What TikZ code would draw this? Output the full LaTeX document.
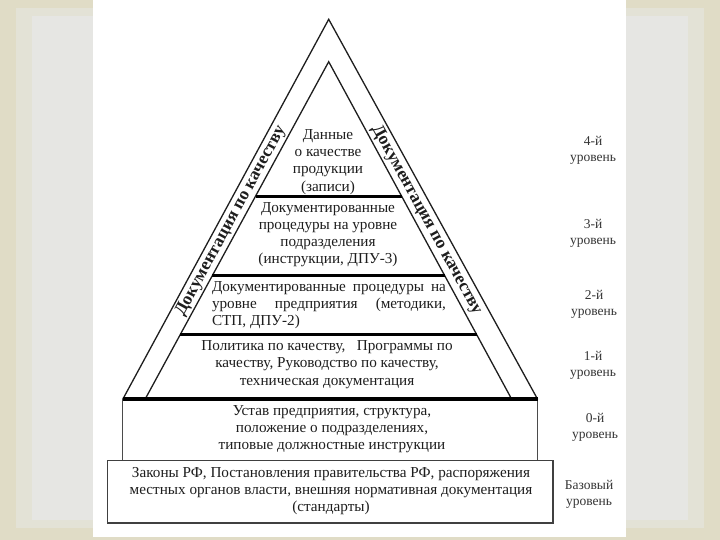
\documentclass[tikz,border=0pt]{standalone}
\usepackage{fontspec}
\setmainfont{Liberation Serif}
\usetikzlibrary{calc}
\definecolor{beige}{HTML}{E0DCC6}
\definecolor{beigelt}{HTML}{E3E2D6}
\definecolor{panelgray}{HTML}{E6E6E3}
\definecolor{ink}{HTML}{1E1E1E}
\tikzset{
  txt/.style={font=\fontsize{15.2}{17.2}\selectfont, align=center, inner sep=0pt, text=ink},
  lvl/.style={font=\fontsize{13.5}{16}\selectfont, align=center, inner sep=0pt, text=ink!90},
  band/.style={font=\bfseries\fontsize{17.5}{17.5}\selectfont, inner sep=0pt, text=ink},
  edge/.style={draw=ink, line width=1.3pt, line join=miter},
  sep/.style={draw=black, line width=3pt},
  basesep/.style={draw=black, line width=4pt},
  boxthin/.style={draw=ink!80, line width=0.9pt},
  boxbase/.style={draw=ink!85, line width=1.4pt}
}
\begin{document}
\begin{tikzpicture}[x=1pt,y=-1pt]
% background
\fill[beige] (0,0) rectangle (720,540);
\fill[beigelt] (16,8) rectangle (704,528);
\fill[panelgray] (32,16) rectangle (688,520);
\fill[white] (93,0) rectangle (626,537);
\useasboundingbox (0,0) rectangle (720,540);

% coordinates
\coordinate (oL) at (122.7,399.4);
\coordinate (oT) at (328.7,19.3);
\coordinate (oR) at (537.7,399.4);
\coordinate (iL) at (145,399.4);
\coordinate (iT) at (328.7,61.7);
\coordinate (iR) at (511.8,399.4);

% triangles
\draw[edge] (oL) -- (oT) -- (oR);
\draw[edge] (iL) -- (iT) -- (iR);

% separators on inner triangle
\coordinate (s1L) at (255.5,196.3); \coordinate (s1R) at (401.7,196.3);
\coordinate (s2L) at (212.4,275.5); \coordinate (s2R) at (444.6,275.5);
\coordinate (s3L) at (180.2,334.7); \coordinate (s3R) at (476.7,334.7);
\draw[sep] (s1L) -- (s1R);
\draw[sep] (s2L) -- (s2R);
\draw[sep] (s3L) -- (s3R);

% box level 0 and base box
\draw[boxthin] (oL) rectangle (537.7,460.7);
\draw[boxbase] (107.5,460.7) rectangle (553,523);
\draw[basesep] (oL) -- (oR);

% band texts
\node[band, rotate=61.5] (bandL) at (231,221) {Документация по качеству};
\node[band, rotate=-61.3] (bandR) at (426.5,220) {Документация по качеству};

% level texts
\node[txt] (l4) at (328,162) {Данные\\о качестве\\продукции\\(записи)};
\node[txt] (l3) at (328,234.5) {Документированные\\процедуры на уровне\\подразделения\\(инструкции, ДПУ-3)};
\node[txt, align=left] (l2) at (329,305) {\makebox[234pt][s]{Документированные процедуры на}\\\makebox[234pt][s]{уровне предприятия (методики,}\\СТП, ДПУ-2)};
\node[txt] (l1) at (327,364.5) {Политика по качеству,~~ Программы по\\качеству, Руководство по качеству,\\техническая документация};
\node[txt] (l0) at (332,429) {Устав предприятия, структура,\\положение о подразделениях,\\типовые должностные инструкции};
\node[txt] (lb) at (331,491) {Законы РФ, Постановления правительства РФ, распоряжения\\местных органов власти, внешняя нормативная документация\\(стандарты)};

% right labels
\node[lvl] (r4) at (593,150.5) {4-й\\уровень};
\node[lvl] (r3) at (593,233) {3-й\\уровень};
\node[lvl] (r2) at (594,304) {2-й\\уровень};
\node[lvl] (r1) at (593,365) {1-й\\уровень};
\node[lvl] (r0) at (595,427) {0-й\\уровень};
\node[lvl] (rb) at (589,494) {Базовый\\уровень};
\end{tikzpicture}
\end{document}
